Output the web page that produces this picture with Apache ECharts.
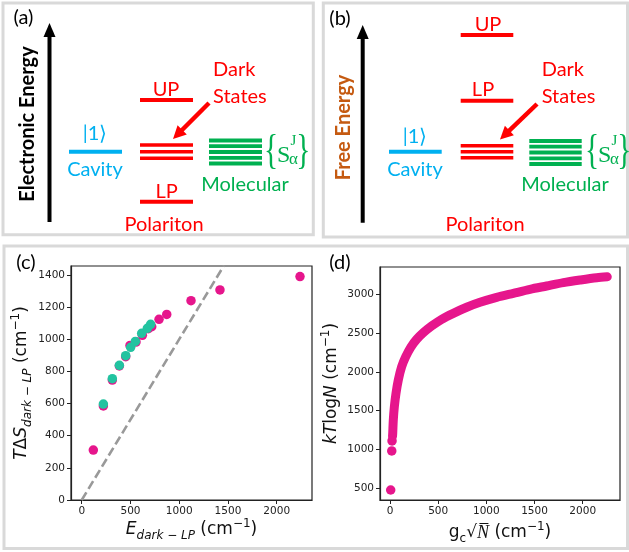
<!DOCTYPE html>
<html><head><meta charset="utf-8">
<script src="https://cdn.jsdelivr.net/npm/echarts@6/dist/echarts.min.js"></script>
<style>html,body{margin:0;padding:0;background:#fff}#c{width:629px;height:552px}</style>
</head><body><div id="c"></div><script>
// ---- Panel (c) data ----
const magentaE  = [119, 222, 314, 386, 451, 495, 557, 622, 683, 718, 793, 872, 1121, 1418, 2239];
const magentaTS = [311, 585, 746, 834, 892, 962, 983, 1025, 1066, 1078, 1124, 1155, 1240, 1307, 1390];
const tealE  = [222, 314, 386, 451, 502, 550, 615, 673, 707];
const tealTS = [597, 755, 838, 898, 950, 987, 1037, 1068, 1093];
const diagonalE  = [0, 1460];
const diagonalTS = [0, 1460];
const cXTicks = [0, 500, 1000, 1500, 2000];
const cYTicks = [0, 200, 400, 600, 800, 1000, 1200, 1400];
// ---- Panel (d) data ----
const dCurveG = [26, 28, 34, 45, 62, 86, 121, 163, 215, 277, 346, 433, 536, 657, 796, 934, 1107, 1280, 1453, 1626, 1799, 1972, 2145, 2255];
const dCurveK = [1170, 1209, 1380, 1552, 1724, 1896, 2067, 2196, 2317, 2420, 2505, 2592, 2678, 2755, 2833, 2897, 2961, 3013, 3064, 3107, 3150, 3184, 3214, 3225];
const dDotsG = [7, 18, 21];
const dDotsK = [478, 981, 1110];
const dXTicks = [0, 500, 1000, 1500, 2000];
const dYTicks = [500, 1000, 1500, 2000, 2500, 3000];

const zip = (a, b) => a.map((v, i) => [v, b[i]]);

const RED = '#FF0000', GREEN = '#00B050', BLUE = '#00B0F0', ORANGE = '#C55A11';
const MAGENTA = '#e6168c', TEAL = '#22c3a0';
const UI = 'Lato';

function hline(x1, x2, y, color, w) {
  return { type: 'line', silent: true, shape: { x1: x1, y1: y, x2: x2, y2: y }, style: { stroke: color, lineWidth: w } };
}
function txt(x, y, text, color, size, o) {
  o = o || {};
  const al = o.align || 'center';
  return {
    type: 'text', silent: true, x: x, y: y, rotation: o.rotation || 0, scaleX: o.scaleX || 1,
    style: {
      text: text, fill: color, fontSize: size, fontFamily: o.family || UI,
      fontWeight: o.weight || 'normal', fontStyle: o.style || 'normal',
      align: al, textAlign: al, verticalAlign: 'middle', textVerticalAlign: 'middle'
    }
  };
}
function arrow(x1, y1, x2, y2, color, w, hl, hw) {
  const L = Math.hypot(x2 - x1, y2 - y1), dx = (x2 - x1) / L, dy = (y2 - y1) / L;
  const bx = x2 - dx * hl, by = y2 - dy * hl, nx = -dy, ny = dx;
  return [
    { type: 'line', silent: true, shape: { x1: x1, y1: y1, x2: bx + dx * 2, y2: by + dy * 2 }, style: { stroke: color, lineWidth: w } },
    { type: 'polygon', silent: true, shape: { points: [[x2, y2], [bx + nx * hw / 2, by + ny * hw / 2], [bx - nx * hw / 2, by - ny * hw / 2]] }, style: { fill: color } }
  ];
}
function sTerm(ox) {
  return [
    txt(271 + ox, 151.5, '{', GREEN, 42, { family: 'Liberation Serif', scaleX: 0.7 }),
    txt(283.7 + ox, 155.5, 'S', GREEN, 24, { family: 'Liberation Serif' }),
    txt(293.5 + ox, 141.5, 'J', GREEN, 15, { family: 'Liberation Serif' }),
    txt(293.5 + ox, 160, 'α', GREEN, 17, { family: 'Liberation Serif' }),
    txt(303.3 + ox, 151.5, '}', GREEN, 42, { family: 'Liberation Serif', scaleX: 0.7 })
  ];
}

const g = [];
// panel borders
const BORDER = '#d9d9d9';
g.push({ type: 'rect', silent: true, shape: { x: 3, y: 3, width: 310.3, height: 231.7 }, style: { fill: null, stroke: BORDER, lineWidth: 3 } });
g.push({ type: 'rect', silent: true, shape: { x: 323.3, y: 3, width: 304.2, height: 234 }, style: { fill: null, stroke: BORDER, lineWidth: 3 } });
g.push({ type: 'rect', silent: true, shape: { x: 4, y: 246, width: 623.5, height: 302.5 }, style: { fill: null, stroke: BORDER, lineWidth: 3 } });

// ---- Panel (a) ----
g.push(txt(23.5, 18, '(a)', '#000', 20));
g.push(...arrow(49.5, 222, 49.5, 23, '#000', 4, 14, 12));
g.push(txt(28, 124, 'Electronic Energy', '#000', 20, { weight: 'bold', rotation: Math.PI / 2 }));
g.push(hline(69, 122, 151.7, BLUE, 4));
g.push(txt(95, 134, '|1⟩', BLUE, 20));
g.push(txt(95, 170, 'Cavity', BLUE, 20));
g.push(hline(140, 193, 100, RED, 4));
g.push(txt(166, 90, 'UP', RED, 20));
[145, 151.7, 158.3].forEach(y => g.push(hline(140, 193, y, RED, 3.6)));
g.push(hline(140, 193, 201.7, RED, 4));
g.push(txt(166.7, 191.7, 'LP', RED, 20));
g.push(txt(164, 225, 'Polariton', RED, 20));
g.push(txt(213, 70, 'Dark', RED, 20, { align: 'left' }));
g.push(txt(213, 96.7, 'States', RED, 20, { align: 'left' }));
g.push(...arrow(209, 103, 173, 139, RED, 4.5, 13, 13));
[140.5, 146.2, 152, 157.8, 163.5].forEach(y => g.push(hline(209, 262, y, GREEN, 3.8)));
g.push(...sTerm(0));
g.push(txt(245, 185, 'Molecular', GREEN, 20));

// ---- Panel (b) ----
g.push(txt(340, 19, '(b)', '#000', 20));
g.push(...arrow(362.7, 222.7, 362.7, 25, '#000', 4, 14, 12));
g.push(txt(343.5, 127.5, 'Free Energy', ORANGE, 20, { weight: 'bold', rotation: Math.PI / 2 }));
g.push(hline(389, 441.7, 151.7, BLUE, 4));
g.push(txt(415, 136.7, '|1⟩', BLUE, 20));
g.push(txt(415, 170, 'Cavity', BLUE, 20));
g.push(hline(460.7, 513.3, 35, RED, 4));
g.push(txt(488, 25, 'UP', RED, 20));
g.push(hline(460.7, 513.3, 100.7, RED, 4));
g.push(txt(483, 90, 'LP', RED, 20));
[145.7, 151.7, 157.7].forEach(y => g.push(hline(460.7, 513.3, y, RED, 3.6)));
g.push(txt(541.7, 70, 'Dark', RED, 20, { align: 'left' }));
g.push(txt(541.7, 96.7, 'States', RED, 20, { align: 'left' }));
g.push(...arrow(537, 104, 500, 139.5, RED, 4.5, 13, 13));
[141, 146.7, 152.5, 158.3, 164].forEach(y => g.push(hline(529.3, 581.7, y, GREEN, 3.8)));
g.push(...sTerm(321));
g.push(txt(565, 185, 'Molecular', GREEN, 20));
g.push(txt(485, 225, 'Polariton', RED, 20));

// ---- panel labels (c), (d) ----
g.push(txt(26, 262.5, '(c)', '#000', 20));
g.push(txt(340, 262.5, '(d)', '#000', 20));

const AX = '#222';
const nameRich = {
  n:    { fontFamily: 'DejaVu Sans', fontSize: 17, lineHeight: 24, color: '#111' },
  i:    { fontFamily: 'DejaVu Sans', fontStyle: 'italic', fontSize: 17, lineHeight: 24, color: '#111' },
  si:   { fontFamily: 'Liberation Serif', fontStyle: 'italic', fontSize: 18, lineHeight: 24, color: '#111' },
  sub:  { fontFamily: 'DejaVu Sans', fontStyle: 'italic', fontSize: 12, lineHeight: 12, verticalAlign: 'bottom', color: '#111' },
  subu: { fontFamily: 'DejaVu Sans', fontSize: 12, lineHeight: 12, verticalAlign: 'bottom', color: '#111' },
  sup:  { fontFamily: 'DejaVu Sans', fontSize: 12, lineHeight: 12, verticalAlign: 'top', color: '#111' }
};
function valueAxis(gi, min, max, ticks, name, gap) {
  return {
    type: 'value', gridIndex: gi, min: min, max: max,
    name: name, nameLocation: 'middle', nameGap: gap,
    nameTextStyle: { rich: nameRich },
    axisLine: { show: true, onZero: false, lineStyle: { color: AX, width: 1.2 } },
    axisTick: { show: true, inside: false, length: 4, customValues: ticks, lineStyle: { color: AX, width: 1 } },
    axisLabel: { customValues: ticks, formatter: v => String(v), fontFamily: 'DejaVu Sans', fontSize: 10.5, color: '#222', margin: 6 },
    splitLine: { show: false }
  };
}

const option = {
  animation: false,
  backgroundColor: '#fff',
  graphic: { elements: g },
  grid: [
    { left: 71, right: 317, top: 266, bottom: 52, show: true, borderColor: AX, borderWidth: 1.2, backgroundColor: 'transparent' },
    { left: 380, right: 9, top: 267, bottom: 52, show: true, borderColor: AX, borderWidth: 1.2, backgroundColor: 'transparent' }
  ],
  xAxis: [
    valueAxis(0, -110, 2362, cXTicks, '{i|E}{sub|dark − LP}{n| (cm}{sup|−1}{n|)}', 18),
    valueAxis(1, -104, 2387, dXTicks, '{n|g}{subu|c}{n|√}{si|N̅}{n| (cm}{sup|−1}{n|)}', 21)
  ],
  yAxis: [
    valueAxis(0, 0, 1456, cYTicks, '{i|T}{n|Δ}{i|S}{sub|dark − LP}{n| (cm}{sup|−1}{n|)}', 37),
    valueAxis(1, 349, 3352, dYTicks, '{i|kT}{n|log}{i|N}{n| (cm}{sup|−1}{n|)}', 36)
  ],
  series: [
    { name: 'y = x', type: 'line', xAxisIndex: 0, yAxisIndex: 0, data: zip(diagonalE, diagonalTS),
      showSymbol: false, symbol: 'none', clip: true, z: 1,
      lineStyle: { color: '#999', width: 2.6, type: [9, 4] } },
    { name: 'magenta', type: 'scatter', xAxisIndex: 0, yAxisIndex: 0, data: zip(magentaE, magentaTS),
      symbolSize: 9.5, itemStyle: { color: MAGENTA, opacity: 1 }, z: 3 },
    { name: 'teal', type: 'scatter', xAxisIndex: 0, yAxisIndex: 0, data: zip(tealE, tealTS),
      symbolSize: 9.5, itemStyle: { color: TEAL, opacity: 1 }, z: 4 },
    { name: 'kTlogN curve', type: 'line', xAxisIndex: 1, yAxisIndex: 1, data: zip(dCurveG, dCurveK),
      smooth: 0.3, showSymbol: false, symbol: 'none', z: 3,
      lineStyle: { color: MAGENTA, width: 9, cap: 'round', join: 'round' } },
    { name: 'kTlogN points', type: 'scatter', xAxisIndex: 1, yAxisIndex: 1, data: zip(dDotsG, dDotsK),
      symbolSize: 9.5, itemStyle: { color: MAGENTA, opacity: 1 }, z: 3 }
  ]
};
const chart = echarts.init(document.getElementById('c'), null, { renderer: 'canvas', width: 629, height: 552 });
chart.setOption(option);
</script></body></html>
